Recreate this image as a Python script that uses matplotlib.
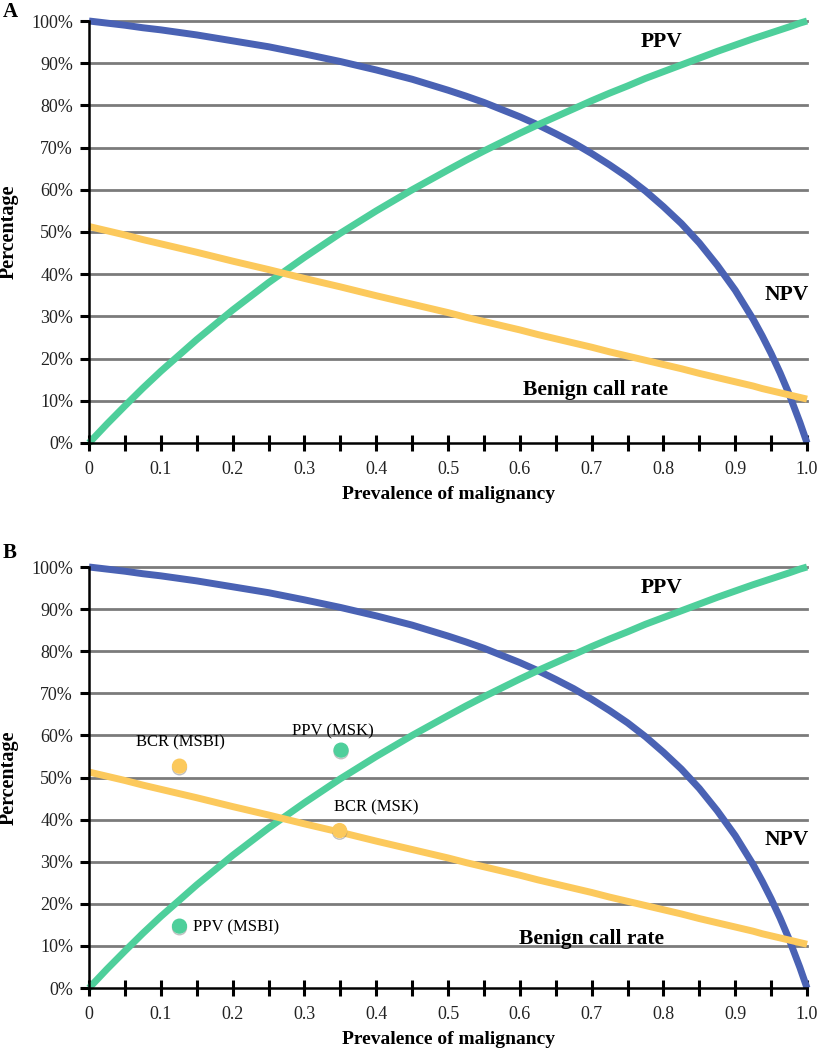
import numpy as np
import matplotlib
matplotlib.use("Agg")
import matplotlib.pyplot as plt
import matplotlib.patheffects as pe
from matplotlib.ticker import MultipleLocator, FuncFormatter

# prevalence of malignancy (x) and the three curves, in %
prevalence = [0, 0.025, 0.05, 0.075, 0.1, 0.15, 0.2, 0.25, 0.3, 0.35, 0.4, 0.45, 0.5,
              0.525, 0.55, 0.575, 0.6, 0.625, 0.65, 0.675, 0.7, 0.725, 0.75, 0.775,
              0.8, 0.825, 0.85, 0.875, 0.9, 0.925, 0.9375, 0.95, 0.9625,
              0.975, 0.99, 1.0]
ppv = [0, 4.5, 8.8, 13.0, 17.0, 24.5, 31.5, 38.0, 44.0, 49.7, 55.0, 60.0, 64.7,
       67.0, 69.2, 71.3, 73.4, 75.4, 77.3, 79.2, 81.1, 82.9, 84.6, 86.4,
       88.0, 89.6, 91.2, 92.8, 94.3, 95.8, 96.5, 97.2, 97.9,
       98.6, 99.5, 100]
npv = [100, 99.5, 99.0, 98.4, 97.9, 96.7, 95.3, 93.9, 92.2, 90.4, 88.4, 86.2, 83.6,
       82.2, 80.7, 79.0, 77.3, 75.4, 73.3, 71.1, 68.6, 65.9, 63.0, 59.7,
       56.0, 52.0, 47.4, 42.1, 36.2, 29.3, 25.4, 21.2, 16.6,
       11.6, 4.9, 0]
bcr = [51.3, 50.3, 49.3, 48.2, 47.2, 45.2, 43.1, 41.1, 39.0, 37.0, 34.9, 32.9, 30.9,
       29.8, 28.8, 27.8, 26.8, 25.7, 24.7, 23.7, 22.7, 21.6, 20.6, 19.6,
       18.6, 17.6, 16.5, 15.5, 14.5, 13.5, 12.9, 12.4, 11.9,
       11.4, 10.8, 10.4]

# observed points for panel B
obs_labels = ["BCR (MSBI)", "PPV (MSK)", "BCR (MSK)", "PPV (MSBI)"]
obs_x = [0.126, 0.351, 0.349, 0.126]
obs_y = [52.7, 56.5, 37.4, 14.7]
obs_kind = ["bcr", "ppv", "bcr", "ppv"]

BLUE = "#4a62b4"
GREEN = "#4ecf9b"
YELLOW = "#fcc95c"
GRID = "#7b7b7b"

plt.rcParams['font.family'] = ['Liberation Serif', 'DejaVu Serif']

fig = plt.figure(figsize=(8.19, 10.5), dpi=100)
ax_a = fig.add_axes([0.1087, 0.5781, 0.8767, 0.4019])
ax_b = fig.add_axes([0.1087, 0.0590, 0.8767, 0.4010])


def style_axes(ax):
    ax.set_xlim(0, 1)
    ax.set_ylim(0, 100)
    for y in range(10, 101, 10):
        ax.axhline(y, color=GRID, lw=2.0, zorder=1, clip_on=False)
    for vals, col in [(npv, BLUE), (ppv, GREEN), (bcr, YELLOW)]:
        ax.plot(prevalence, vals, color=col, lw=5, zorder=3, clip_on=False,
                solid_capstyle='butt', solid_joinstyle='round')

    for s in ['top', 'right']:
        ax.spines[s].set_visible(False)
    for s in ['left', 'bottom']:
        ax.spines[s].set_linewidth(1.8)
        ax.spines[s].set_zorder(4)

    ax.xaxis.set_major_locator(MultipleLocator(0.1))
    ax.xaxis.set_minor_locator(MultipleLocator(0.05))
    ax.xaxis.set_major_formatter(FuncFormatter(
        lambda v, p: "0" if v == 0 else ("1.0" if v == 1 else "%.1f" % v)))
    ax.tick_params(axis='x', which='both', direction='inout', length=12,
                   width=2.2, color='black')
    ax.tick_params(axis='x', which='major', labelsize=13, pad=7,
                   labelcolor='#222222')
    ax.yaxis.set_major_locator(MultipleLocator(10))
    ax.yaxis.set_major_formatter(FuncFormatter(lambda v, p: "%d%%" % v))
    ax.tick_params(axis='y', direction='out', length=6.5, width=2.2,
                   labelsize=13, pad=5, labelcolor='#222222')

    ax.set_xlabel("Prevalence of malignancy", fontsize=14, fontweight='bold',
                  labelpad=6)
    ax.set_ylabel("Percentage", fontsize=14.5, fontweight='bold', labelpad=9)

    ax.text(0.797, 95.1, "PPV", fontsize=15.5, fontweight='bold',
            ha='center', va='center', zorder=5)
    ax.text(0.972, 35.1, "NPV", fontsize=15.5, fontweight='bold',
            ha='center', va='center', zorder=5)


style_axes(ax_a)
style_axes(ax_b)

ax_a.text(0.705, 12.6, "Benign call rate", fontsize=15.5, fontweight='bold',
          ha='center', va='center', zorder=5)
ax_b.text(0.70, 11.6, "Benign call rate", fontsize=15.5, fontweight='bold',
          ha='center', va='center', zorder=5)

shadow = [pe.SimpleLineShadow(offset=(0, -1.2), shadow_color='gray', alpha=0.5),
          pe.Normal()]
for x, y, kind in zip(obs_x, obs_y, obs_kind):
    col = YELLOW if kind == "bcr" else GREEN
    ax_b.plot([x], [y], 'o', color=col, markersize=10, zorder=6,
              path_effects=shadow)

ax_b.text(0.127, 58.4, obs_labels[0], fontsize=12, ha='center', va='center')
ax_b.text(0.340, 61.0, obs_labels[1], fontsize=12, ha='center', va='center')
ax_b.text(0.341, 42.8, obs_labels[2], fontsize=12, ha='left', va='center')
ax_b.text(0.145, 14.3, obs_labels[3], fontsize=12, ha='left', va='center')

fig.text(10 / 819, 1 - 12 / 1050, "A", fontsize=15, fontweight='bold',
         ha='center', va='center')
fig.text(10 / 819, 1 - 553 / 1050, "B", fontsize=15, fontweight='bold',
         ha='center', va='center')

fig.savefig("out.png", dpi=100)
